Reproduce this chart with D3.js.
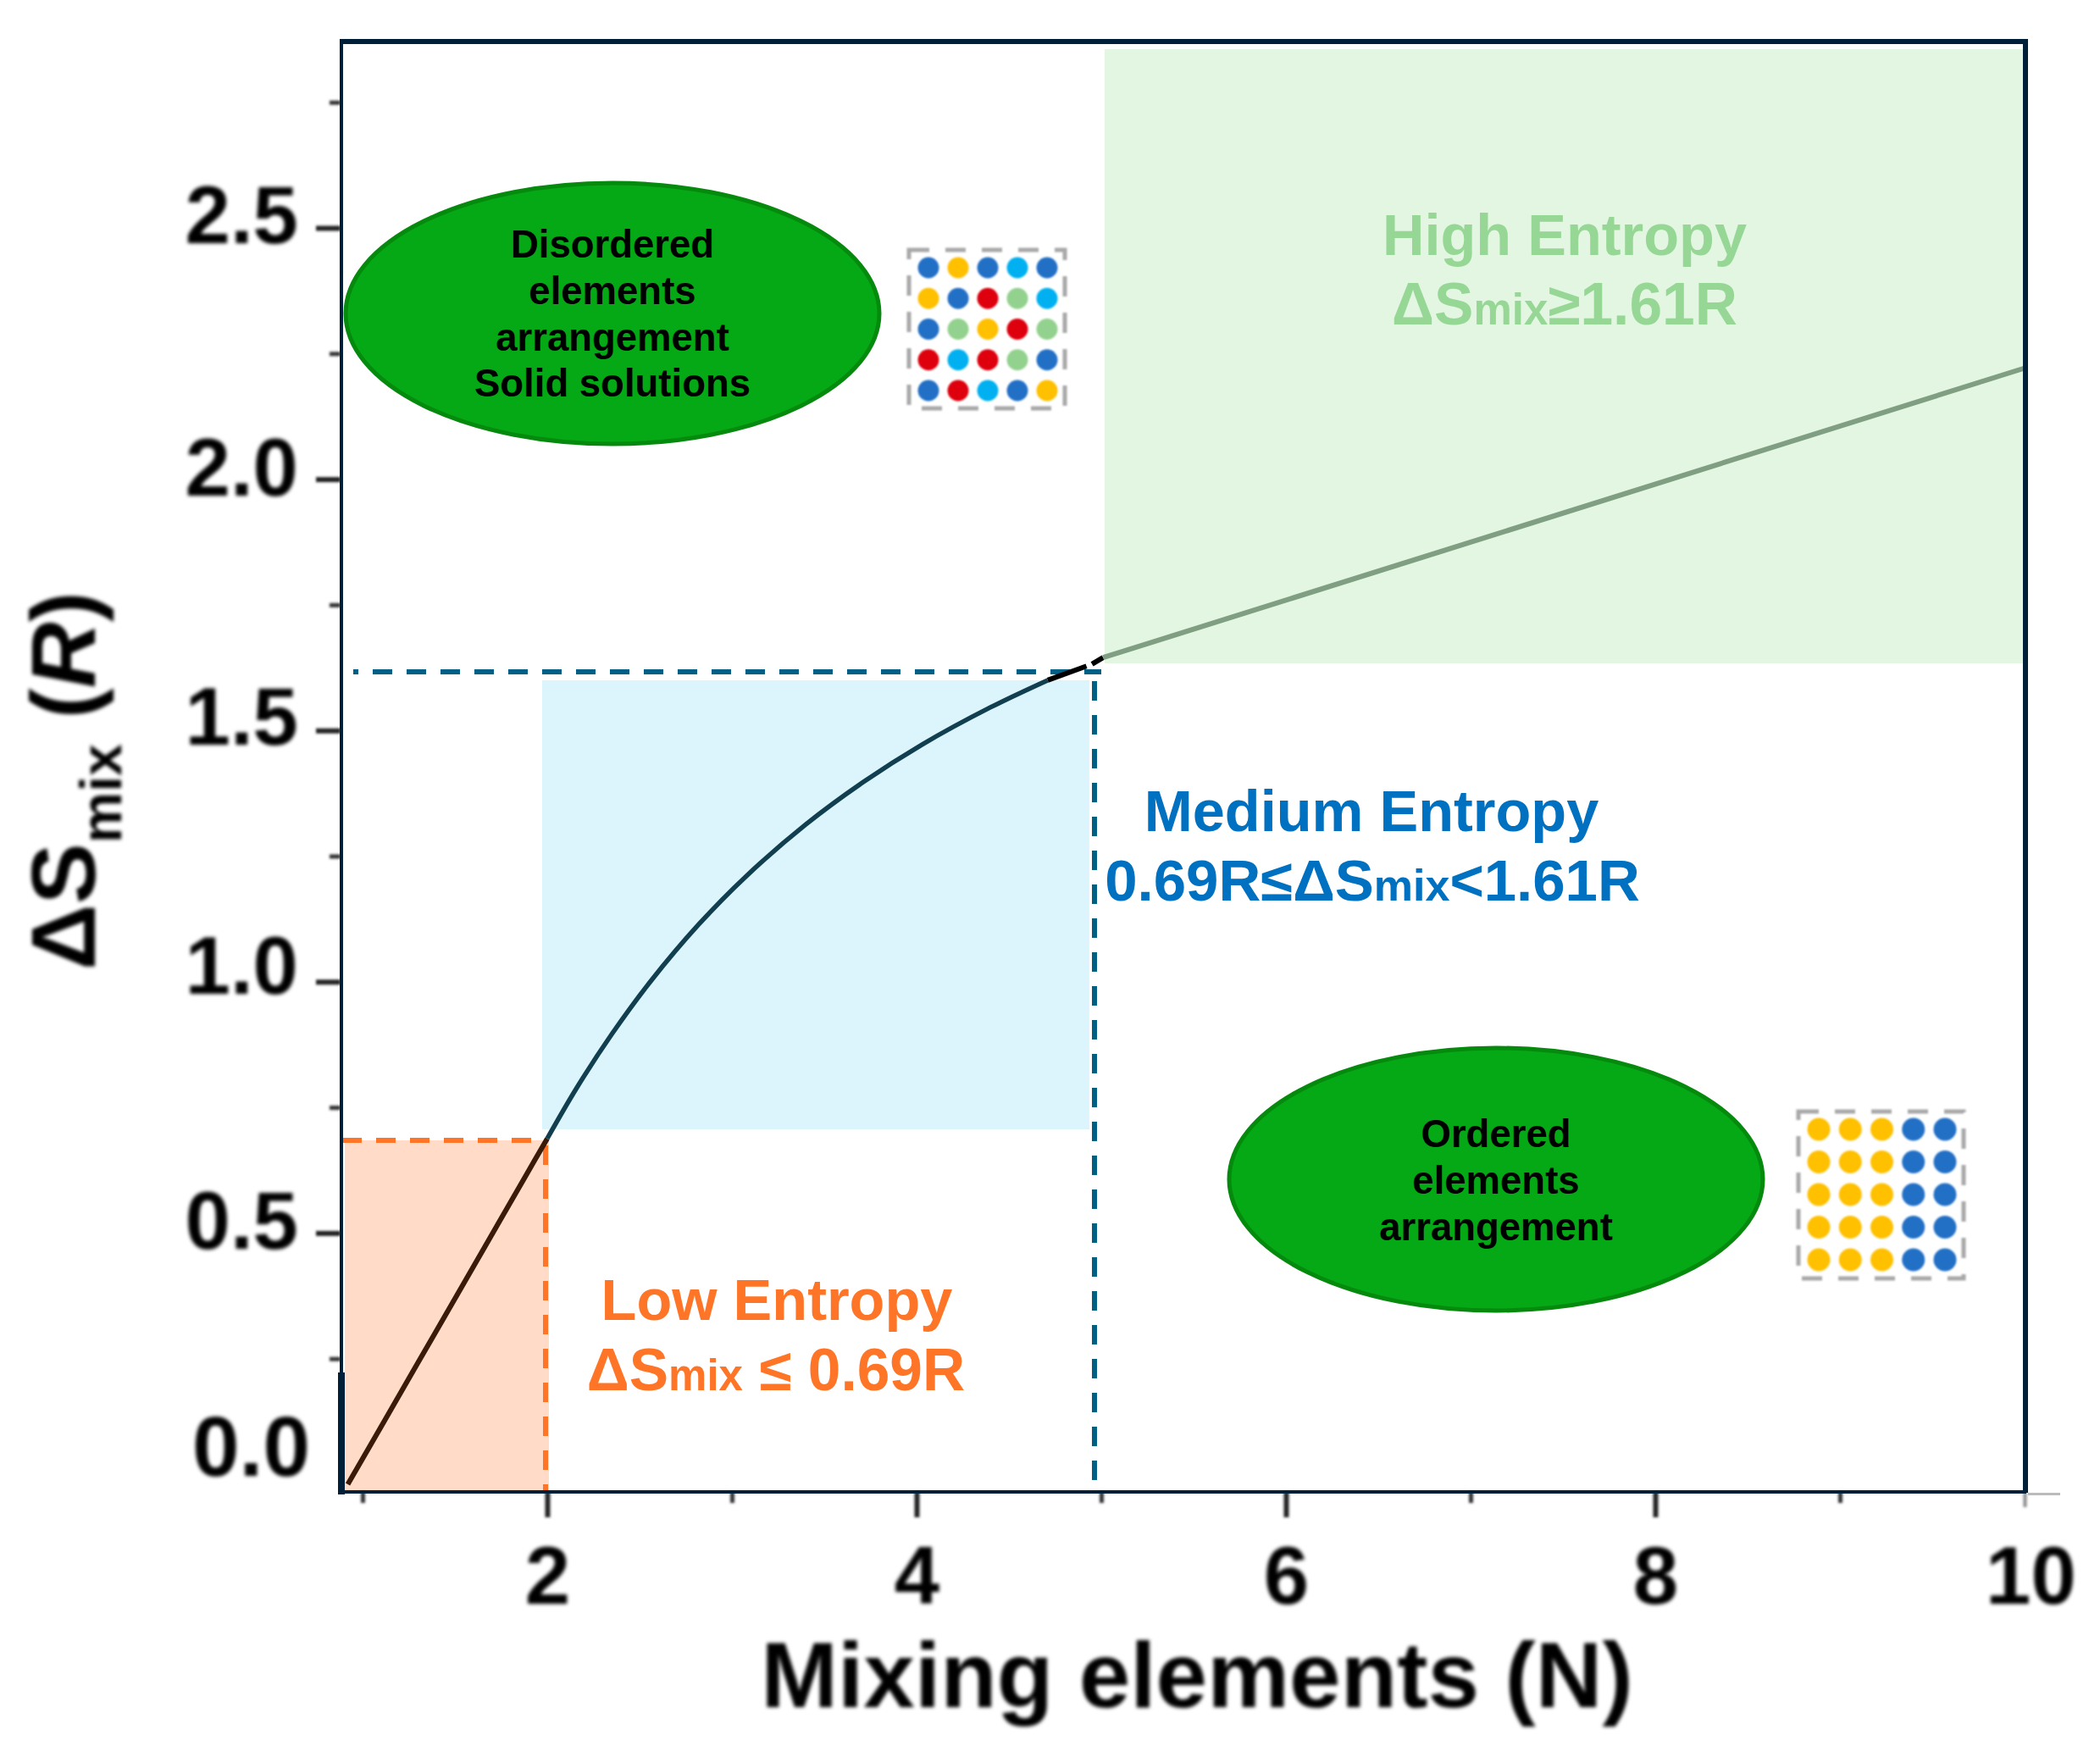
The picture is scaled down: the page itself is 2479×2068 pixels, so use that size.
<!DOCTYPE html>
<html><head><meta charset="utf-8">
<script src="https://cdn.jsdelivr.net/npm/d3@7/dist/d3.min.js"></script>
<style>html,body{margin:0;background:#fff}svg{display:block}text{font-family:"Liberation Sans",Arial,sans-serif;font-weight:700}</style>
</head><body><svg id="c" width="2479" height="2068"></svg>
<script>
// ---- data ----
const xMajor=[2,4,6,8,10], xMinor=[1,3,5,7,9];
const yMajor=[0,0.5,1,1.5,2,2.5], yMinor=[0.25,0.75,1.25,1.75,2.25,2.75];
const yTickLabels=["0.0","0.5","1.0","1.5","2.0","2.5"];
const lowN=[0.92,1.14,1.41,1.66,1.89,2.00];
const lowS=[0.0,0.140,0.312,0.471,0.618,0.688];
const medN=[2.00,2.16,2.35,2.56,2.82,3.08,3.40,3.71,4.03,4.40,4.71];
const medS=[0.688,0.789,0.896,1.001,1.114,1.211,1.313,1.397,1.472,1.546,1.600];
const endN=[4.71,4.92], endS=[1.600,1.628];
const end2N=[4.95,5.01], end2S=[1.632,1.645];
const highN=[5.01,10.0], highS=[1.645,2.221];
const regionNames=["High Entropy","Medium Entropy","Low Entropy"];
const disordered=["B","Y","B","C","B","Y","B","R","G","C","B","G","Y","R","G","R","C","R","G","B","B","R","C","B","Y"];
const ordered=["Y","Y","Y","B","B","Y","Y","Y","B","B","Y","Y","Y","B","B","Y","Y","Y","B","B","Y","Y","Y","B","B"];
const dotColor={B:"#2470C6",Y:"#FFC000",C:"#00B0F0",R:"#DE0010",G:"#93D18E"};

// ---- layout ----
const svg=d3.select("#c");
const W={l:402,r:2391,t:49,b:1761};
const x=d3.scaleLinear().domain([2,10]).range([646,2390]);
const y=d3.scaleLinear().domain([0,2.5]).range([1752,269]);
const line=d3.line().x(d=>x(d[0])).y(d=>y(d[1])).curve(d3.curveCatmullRom.alpha(0.5));
const zip=(a,b)=>a.map((v,i)=>[v,b[i]]);
const defs=svg.append("defs");
const blur=(id,s)=>defs.append("filter").attr("id",id).attr("filterUnits","userSpaceOnUse")
  .attr("x",-3000).attr("y",-3000).attr("width",8000).attr("height",8000)
  .append("feGaussianBlur").attr("stdDeviation",s);
blur("bt",2); blur("bk",1.5); blur("bd",0.9);

// regions
const rect=(x0,x1,y0,y1,f)=>svg.append("rect").attr("x",x0).attr("y",y0).attr("width",x1-x0).attr("height",y1-y0).attr("fill",f);
rect(407,648,1346,1760,"#FFDBC8");
rect(640,1286,803,1333,"#DCF5FC");
rect(1304,2388,58,783,"#E3F6E2");

// dashed guides
const dash=(x1,y1,x2,y2,c,arr)=>svg.append("line").attr("x1",x1).attr("y1",y1).attr("x2",x2).attr("y2",y2)
  .attr("stroke",c).attr("stroke-width",6).attr("stroke-dasharray",arr||"23 17");
dash(404,1346,646,1346,"#FF7527");
dash(644,1352,644,1760,"#FF7527");
dash(417,793,1300,793,"#005F85","6 17 23 17 23 17 23 17 23 17 "+d3.range(40).map(()=>"23 17").join(" "));
dash(1292,804,1292,1760,"#005F85");

// curve
const seg=(a,b,c,w)=>svg.append("path").attr("d",line(zip(a,b))).attr("fill","none").attr("stroke",c).attr("stroke-width",w);
seg(lowN,lowS,"#3A1A08",6);
seg(medN,medS,"#113F50",5.5);
seg(endN,endS,"#000",6);
seg(end2N,end2S,"#000",6);
seg(highN,highS,"#7F9E82",6);

// axes
const gx=svg.append("g").attr("transform",`translate(0,${W.b})`);
gx.append("g").call(d3.axisBottom(x).tickValues(xMajor).tickSize(30).tickFormat(d3.format("d")))
  .call(g=>{g.select(".domain").remove();
    g.selectAll("line").attr("stroke","#222").attr("stroke-width",6).attr("filter","url(#bk)")
      .filter(d=>d===10).attr("stroke","#888").attr("stroke-width",4).attr("y2",18);
    g.selectAll("text").attr("dy",null).attr("font-size",96).attr("fill","#000")
      .attr("text-anchor","middle").attr("y",132).attr("filter","url(#bt)")
      .filter(d=>d===10).attr("dx",7);});
gx.append("g").call(d3.axisBottom(x).tickValues(xMinor).tickSize(13).tickFormat(""))
  .call(g=>{g.select(".domain").remove();g.selectAll("line").attr("stroke","#333").attr("stroke-width",5).attr("filter","url(#bk)");});
const gy=svg.append("g").attr("transform",`translate(${W.l},0)`);
const yDy={0:-11,0.5:18,1:14,1.5:16,2:19,2.5:17}, yRight={0:366,0.5:352,1:352,1.5:352,2:352,2.5:352};
const ySize=d=>d===0?100:96;
gy.append("g").call(d3.axisLeft(y).tickValues(yMajor).tickSize(29).tickFormat((d,i)=>yTickLabels[i]))
  .call(g=>{g.select(".domain").remove();
    g.selectAll("line").attr("stroke","#222").attr("stroke-width",6).attr("filter","url(#bk)")
      .filter(d=>d===0).remove();
    g.selectAll("text").attr("dy",null).attr("font-size",ySize).attr("fill","#000").attr("text-anchor","end")
      .attr("x",d=>yRight[d]-W.l).attr("y",d=>yDy[d]).attr("filter","url(#bt)");});
gy.append("g").call(d3.axisLeft(y).tickValues(yMinor).tickSize(13).tickFormat(""))
  .call(g=>{g.select(".domain").remove();g.selectAll("line").attr("stroke","#333").attr("stroke-width",5).attr("filter","url(#bk)");});

// frame
const navy="#00203A";
rect(401,405,46,1622,navy);
rect(399,407,1620,1764,navy);
rect(401,2394,46,52,navy);
rect(401,2392,1759,1763,navy);
rect(2388,2394,46,1762,navy);
rect(2394,2432,1762,1765,"#BBBBBB");

// axis titles
svg.append("text").attr("x",1413).attr("y",2015).attr("text-anchor","middle").attr("font-size",109)
  .attr("fill","#000").attr("filter","url(#bt)").text("Mixing elements (N)");
const yt=svg.append("text").attr("transform","translate(112,1145) rotate(-90)").attr("font-size",108)
  .attr("fill","#000").attr("filter","url(#bt)");
yt.append("tspan").text("ΔS");
yt.append("tspan").attr("font-size",68).attr("dy",31).text("mix");
yt.append("tspan").attr("dy",-31).attr("dx",30).text("(");
yt.append("tspan").attr("font-style","italic").text("R");
yt.append("tspan").text(")");

// region labels
function rich(cx,base,c,size,parts){
  const t=svg.append("text").attr("x",cx).attr("y",base).attr("text-anchor","middle").attr("font-size",size).attr("fill",c);
  parts.forEach(p=>{const s=t.append("tspan").text(p[0]); if(p[1]) s.attr("font-size",p[1]);});
}
rich(1847,301,"#97D796",68.5,[[regionNames[0]]]);
rich(1847,383,"#97D796",69.5,[["ΔS"],["mix",51],["≥1.61R"]]);
rich(1619,981,"#0070C0",68.5,[[regionNames[1]]]);
rich(1620,1063,"#0070C0",69,[["0.69R≤ΔS"],["mix",52],["<1.61R"]]);
rich(917,1558,"#FF7527",68.5,[[regionNames[2]]]);
rich(916,1641,"#FF7527",69.5,[["ΔS"],["mix",51],[" ≤ 0.69R"]]);

// ovals
function oval(cx,cy,rx,ry,lines,base){
  svg.append("ellipse").attr("cx",cx).attr("cy",cy).attr("rx",rx).attr("ry",ry)
    .attr("fill","#05A815").attr("stroke","#068A0E").attr("stroke-width",5);
  lines.forEach((l,i)=>svg.append("text").attr("x",cx).attr("y",base+i*54.8).attr("text-anchor","middle")
    .attr("font-size",45.5).attr("fill","#000").text(l));
}
oval(723,370,315,154,["Disordered","elements","arrangement","Solid solutions"],304);
oval(1766,1392,315,155,["Ordered","elements","arrangement"],1354);

// lattices
function lattice(cells,xr,yr,r,box){
  const cols=d3.scalePoint().domain(d3.range(5)).range(xr), rows=d3.scalePoint().domain(d3.range(5)).range(yr);
  svg.append("rect").attr("x",box[0]).attr("y",box[1]).attr("width",box[2]-box[0]).attr("height",box[3]-box[1])
    .attr("fill","none").attr("stroke","#A8A8A8").attr("stroke-width",5).attr("stroke-dasharray","24 19").attr("filter","url(#bd)");
  svg.append("g").attr("filter","url(#bd)").selectAll("circle").data(cells).join("circle")
    .attr("cx",(d,i)=>cols(i%5)).attr("cy",(d,i)=>rows(Math.floor(i/5))).attr("r",r).attr("fill",d=>dotColor[d]);
}
lattice(disordered,[1096,1236],[316,461],12.5,[1073,295,1257,482]);
lattice(ordered,[2147,2296],[1333,1487],13.5,[2123,1312,2318,1509]);
</script></body></html>
